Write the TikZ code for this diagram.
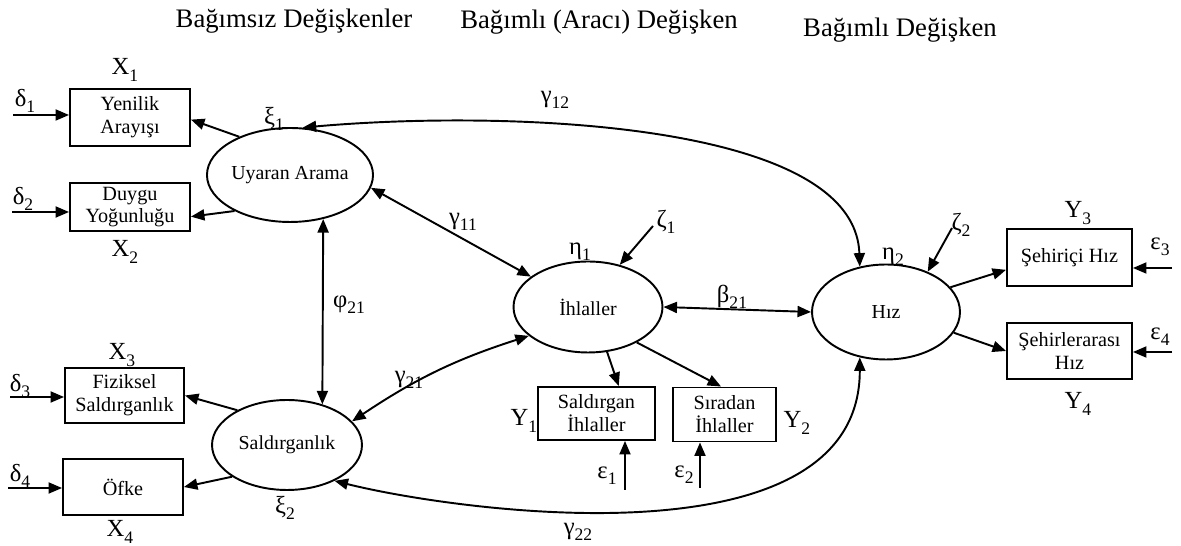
\documentclass[tikz,border=0pt]{standalone}
\usepackage{fontspec}
\setmainfont{Liberation Serif}
\usetikzlibrary{shapes.geometric,arrows.meta}
\newcommand\lbl[2]{#1\raisebox{-0.55ex}{\fontsize{10}{10}\selectfont #2}}
\begin{document}
\begin{tikzpicture}[x=0.02cm, y=-0.02cm,
  lat/.style={ellipse, draw, line width=1.1pt, inner sep=0pt, font=\fontsize{11.3}{13}\selectfont},
  obs/.style={rectangle, draw, line width=1.1pt, inner sep=0pt, align=center, font=\fontsize{11.5}{13}\selectfont},
  arr/.style={line width=1.1pt, -{Triangle[length=2.7mm,width=2.2mm]}},
  darr/.style={line width=1.1pt, {Triangle[length=2.7mm,width=2.2mm]}-{Triangle[length=2.7mm,width=2.2mm]}},
  lab/.style={font=\fontsize{14}{14}\selectfont, inner sep=0pt},
  ttl/.style={font=\fontsize{15.2}{17}\selectfont, inner sep=0pt}]
\useasboundingbox (0,0) rectangle (1181,546);

% titles
\node[ttl] (t1) at (294,21) {Bağımsız Değişkenler};
\node[ttl] (t2) at (599,22) {Bağımlı (Aracı) Değişken};
\node[ttl] (t3) at (900,30) {Bağımlı Değişken};

% latent variables
\node[lat, minimum width=3.04cm, minimum height=1.88cm] (UA) at (290,175) {Uyaran Arama};
\node[lat, minimum width=3cm, minimum height=1.8cm] (S) at (287,445) {Saldırganlık};
\node[lat, minimum width=2.98cm, minimum height=1.82cm] (I) at (588,307) {İhlaller};
\node[lat, minimum width=2.96cm, minimum height=1.9cm] (H) at (886,312) {Hız};

% observed variables
\node[obs, minimum width=2.4cm, minimum height=1.14cm] (X1) at (130,117.5) {Yenilik\\Arayışı};
\node[obs, minimum width=2.4cm, minimum height=0.96cm] (X2) at (130,207) {Duygu\\Yoğunluğu};
\node[obs, minimum width=2.38cm, minimum height=1.1cm] (X3) at (124.5,395.5) {Fiziksel\\Saldırganlık};
\node[obs, minimum width=2.4cm, minimum height=1.12cm] (X4) at (123,487) {Öfke};
\node[obs, minimum width=2.34cm, minimum height=1.06cm] (Y1) at (596.5,413.5) {Saldırgan\\İhlaller};
\node[obs, minimum width=2.06cm, minimum height=1.08cm] (Y2) at (724.5,414.5) {Sıradan\\İhlaller};
\node[obs, minimum width=2.5cm, minimum height=1.14cm] (Y3) at (1069.5,257.5) {Şehiriçi Hız};
\node[obs, minimum width=2.5cm, minimum height=1.12cm] (Y4) at (1069.5,351) {Şehirlerarası\\Hız};

% free ends
\coordinate (d1e) at (13,115);
\coordinate (d2e) at (12,212);
\coordinate (d3e) at (10,397);
\coordinate (d4e) at (8,488);
\coordinate (e1e) at (625,490);
\coordinate (e2e) at (700,488);
\coordinate (e3e) at (1172,268);
\coordinate (e4e) at (1172,352);
\coordinate (z1e) at (653,226);
\coordinate (z2e) at (952,228);

% labels
\node[lab] (lx1) at (125,70) {\lbl{X}{1}};
\node[lab] (lx2) at (125,252) {\lbl{X}{2}};
\node[lab] (lx3) at (122,355) {\lbl{X}{3}};
\node[lab] (lx4) at (120,532) {\lbl{X}{4}};
\node[lab] (ld1) at (25,101) {\lbl{δ}{1}};
\node[lab] (ld2) at (23,199) {\lbl{δ}{2}};
\node[lab] (ld3) at (20,386) {\lbl{δ}{3}};
\node[lab] (ld4) at (20,476) {\lbl{δ}{4}};
\node[lab] (lxi1) at (274,119) {\lbl{ξ}{1}};
\node[lab] (lxi2) at (285,508) {\lbl{ξ}{2}};
\node[lab] (lphi) at (349,305) {\lbl{φ}{21}};
\node[lab] (lg11) at (463,222) {\lbl{γ}{11}};
\node[lab] (lg21) at (409,380) {\lbl{γ}{21}};
\node[lab] (lg12) at (555,100) {\lbl{γ}{12}};
\node[lab] (lg22) at (578,532) {\lbl{γ}{22}};
\node[lab] (lb21) at (732,297) {\lbl{β}{21}};
\node[lab] (leta1) at (580,252) {\lbl{η}{1}};
\node[lab] (leta2) at (893,257) {\lbl{η}{2}};
\node[lab] (lz1) at (666,222) {\lbl{ζ}{1}};
\node[lab] (lz2) at (961,225) {\lbl{ζ}{2}};
\node[lab] (ly1) at (524,421) {\lbl{Y}{1}};
\node[lab] (ly2) at (797,423) {\lbl{Y}{2}};
\node[lab] (ly3) at (1078,213) {\lbl{Y}{3}};
\node[lab] (ly4) at (1078,404) {\lbl{Y}{4}};
\node[lab] (le1) at (607,476) {\lbl{ε}{1}};
\node[lab] (le2) at (684,475) {\lbl{ε}{2}};
\node[lab] (le3) at (1160,247) {\lbl{ε}{3}};
\node[lab] (le4) at (1160,337) {\lbl{ε}{4}};

% error arrows
\draw[arr] (d1e) -- (d1e -| X1.west);
\draw[arr] (d2e) -- (d2e -| X2.west);
\draw[arr] (d3e) -- (d3e -| X3.west);
\draw[arr] (d4e) -- (d4e -| X4.west);
\draw[arr] (e1e) -- (e1e |- Y1.south);
\draw[arr] (e2e) -- (e2e |- Y2.south);
\draw[arr] (e3e) -- (e3e -| Y3.east);
\draw[arr] (e4e) -- (e4e -| Y4.east);
\draw[arr] (z1e) -- (I.53);
\draw[arr] (z2e) -- (H.44);

% loadings
\draw[arr] (UA.143.5) -- (X1.-2);
\draw[arr] (UA.213) -- (X2.-9.5);
\draw[arr] (S.145) -- (X3.east);
\draw[arr] (S.210) -- (X4.east);
\draw[arr] (I.-67.6) -- (Y1.51);
\draw[arr] (I.-36) -- (Y2.97);
\draw[arr] (H.21) -- (Y3.191);
\draw[arr] (H.-17) -- (Y4.west);

% structural paths
\draw[darr] (UA.-53) -- (S.49);
\draw[darr] (UA.-9) -- (I.152);
\draw[darr] (S.20) to[bend left=8] (I.206);
\draw[darr] (I.east) -- (H.west);
\draw[darr] (UA.75) .. controls (500,110) and (855,120) .. (H.120);
\draw[darr] (S.-37) .. controls (450,510) and (860,570) .. (H.240);
\end{tikzpicture}
\end{document}
